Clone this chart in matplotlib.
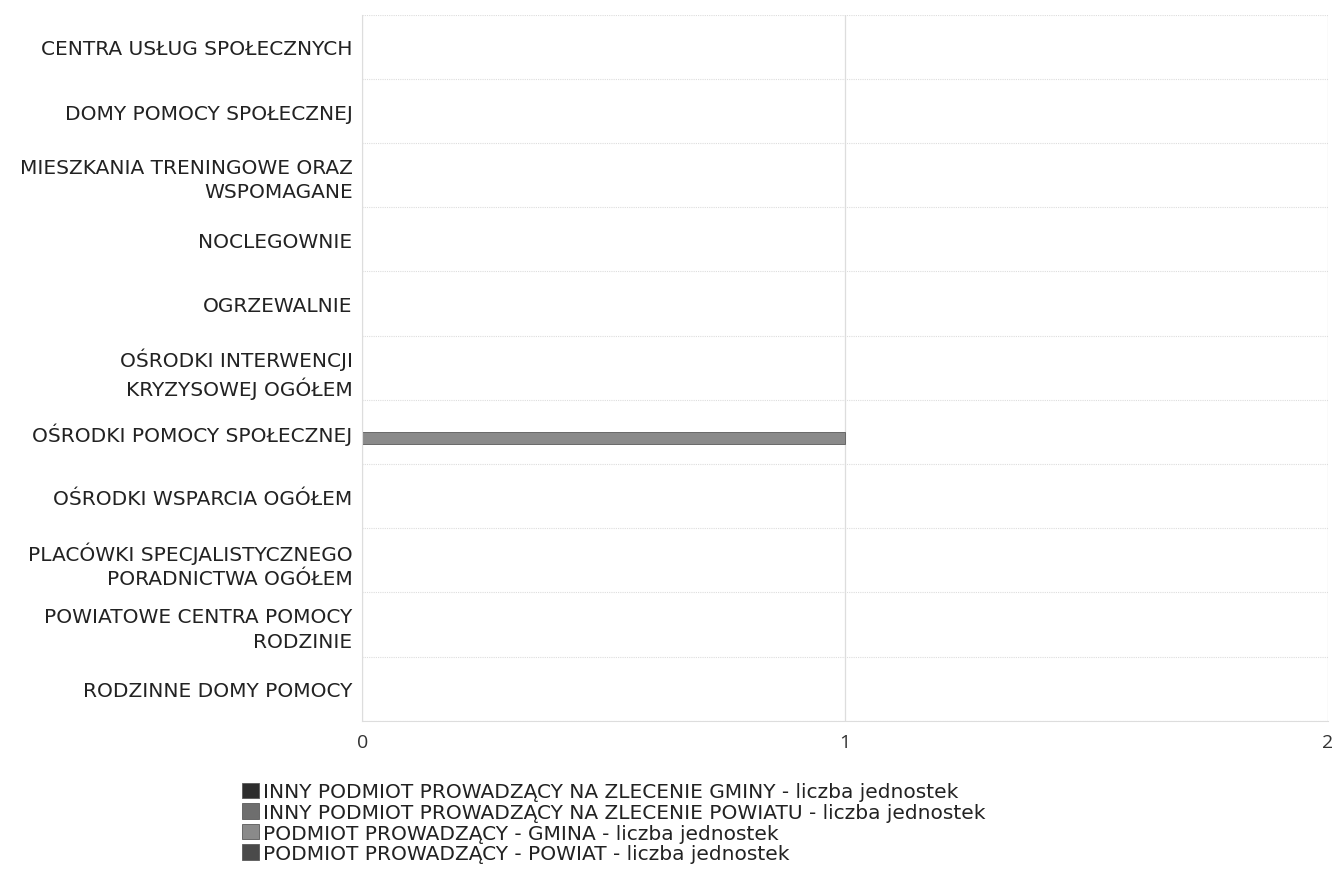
import matplotlib
matplotlib.use("Agg")
import matplotlib.pyplot as plt
import numpy as np

categories = [
    "CENTRA USŁUG SPOŁECZNYCH",
    "DOMY POMOCY SPOŁECZNEJ",
    "MIESZKANIA TRENINGOWE ORAZ\nWSPOMAGANE",
    "NOCLEGOWNIE",
    "OGRZEWALNIE",
    "OŚRODKI INTERWENCJI\nKRYZYSOWEJ OGÓŁEM",
    "OŚRODKI POMOCY SPOŁECZNEJ",
    "OŚRODKI WSPARCIA OGÓŁEM",
    "PLACÓWKI SPECJALISTYCZNEGO\nPORADNICTWA OGÓŁEM",
    "POWIATOWE CENTRA POMOCY\nRODZINIE",
    "RODZINNE DOMY POMOCY",
]
series_names = [
    "INNY PODMIOT PROWADZĄCY NA ZLECENIE GMINY - liczba jednostek",
    "INNY PODMIOT PROWADZĄCY NA ZLECENIE POWIATU - liczba jednostek",
    "PODMIOT PROWADZĄCY - GMINA - liczba jednostek",
    "PODMIOT PROWADZĄCY - POWIAT - liczba jednostek",
]
inny_gmina = [0, 0, 0, 0, 0, 0, 0, 0, 0, 0, 0]
inny_powiat = [0, 0, 0, 0, 0, 0, 0, 0, 0, 0, 0]
gmina = [0, 0, 0, 0, 0, 0, 1, 0, 0, 0, 0]
powiat = [0, 0, 0, 0, 0, 0, 0, 0, 0, 0, 0]
x_ticks = [0, 1, 2]

colors = ["#2e2e2e", "#6e6e6e", "#8a8a8a", "#4a4a4a"]

fig = plt.figure(figsize=(13.32, 8.78), dpi=100)
ax = fig.add_axes([0.272, 0.178, 0.725, 0.804])

y = np.arange(len(categories))
h = 0.19
offsets = [-0.285, -0.095, 0.095, 0.285]
handles = []
for vals, off, col, name in zip([inny_gmina, inny_powiat, gmina, powiat], offsets, colors, series_names):
    b = ax.barh(y + off, vals, height=h, color=col, edgecolor="#5a5a5a", linewidth=0.6, label=name)
    handles.append(b)

ax.set_ylim(len(categories) - 0.5, -0.5)
ax.set_xlim(0, 2)
ax.set_xticks(x_ticks)
ax.set_xticklabels([str(t) for t in x_ticks], fontsize=14, family="Open Sans", color="#333333")
ax.set_yticks(y)
ax.set_yticklabels(categories, fontsize=14.5, family="DejaVu Sans", color="#222222", linespacing=1.35)
ax.tick_params(axis="both", length=0)
ax.tick_params(axis="y", pad=7)
ax.tick_params(axis="x", pad=9)

ax.set_yticks(np.arange(len(categories) + 1) - 0.5, minor=True)
ax.tick_params(axis="y", which="minor", length=0)
ax.grid(which="minor", axis="y", color="#dddddd", linestyle=(0, (1, 1)), linewidth=0.8)
ax.grid(which="major", axis="x", color="#dddddd", linewidth=0.9)
ax.set_axisbelow(True)
for s in ["top", "right"]:
    ax.spines[s].set_visible(False)
ax.spines["left"].set_color("#dddddd")
ax.spines["bottom"].set_color("#dddddd")

leg = fig.legend(handles=handles, loc="upper left", bbox_to_anchor=(0.176, 0.117),
                 frameon=False, prop={"family": "DejaVu Sans", "size": 14.5},
                 handlelength=0.8, handleheight=0.8, handletextpad=0.2,
                 labelspacing=0.08, borderaxespad=0)
for t in leg.get_texts():
    t.set_color("#222222")

fig.savefig("out.png", dpi=100)
